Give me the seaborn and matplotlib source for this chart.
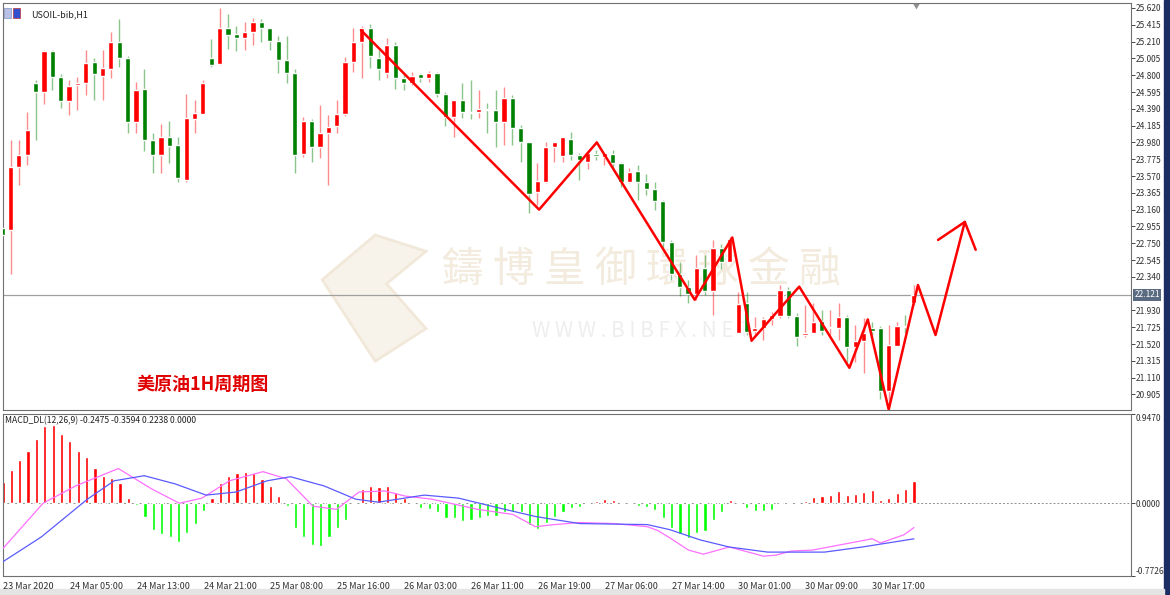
import numpy as np
import pandas as pd
import matplotlib
matplotlib.use("Agg")
import matplotlib.pyplot as plt
import seaborn as sns
from matplotlib.patches import Rectangle, Polygon

sns.set_style("white")
plt.rcParams['font.family'] = ['Noto Sans CJK SC', 'DejaVu Sans']

# USOIL H1 candles (bar 0 = 23 Mar 2020 21:00)
opens = [22.94, 22.91, 23.68, 23.83, 24.71, 24.59, 25.09, 24.78, 24.48, 24.68,
         24.71, 24.96, 24.79, 24.88, 25.20, 25.01, 24.23, 24.63, 24.01, 23.83,
         24.05, 23.95, 23.52, 24.27, 24.33, 25.01, 24.94, 25.38, 25.30, 25.26,
         25.33, 25.45, 25.37, 25.22, 24.99, 24.83, 23.84, 24.24, 23.93, 24.10,
         24.18, 24.33, 24.96, 25.20, 25.37, 25.01, 24.83, 25.17, 24.77, 24.71,
         24.81, 24.77, 24.83, 24.57, 24.29, 24.50, 24.35, 24.35, 24.39, 24.37,
         24.23, 24.52, 24.15, 23.98, 23.37, 23.50, 23.93, 23.82, 24.02, 23.83,
         23.74, 23.84, 23.80, 23.84, 23.73, 23.50, 23.63, 23.50, 23.41, 23.26,
         22.76, 22.38, 22.22, 22.13, 22.45, 22.17, 22.69, 22.52, 21.66, 22.02,
         21.68, 21.71, 21.83, 21.86, 22.18, 21.86, 21.63, 21.65, 21.80, 21.71,
         21.72, 21.85, 21.48, 21.56, 21.72, 21.72, 20.95, 21.50, 21.74, 22.02]
highs = [22.97, 24.01, 24.01, 24.35, 24.74, 25.11, 25.11, 24.82, 24.74, 24.78,
         25.11, 25.01, 25.11, 25.33, 25.49, 25.04, 24.72, 24.87, 24.10, 24.21,
         24.24, 24.05, 24.57, 24.50, 24.74, 25.24, 25.62, 25.55, 25.40, 25.45,
         25.50, 25.48, 25.38, 25.28, 25.28, 24.87, 24.29, 24.27, 24.44, 24.32,
         24.50, 25.02, 25.38, 25.40, 25.43, 25.11, 25.26, 25.21, 24.81, 24.84,
         24.83, 24.85, 24.84, 24.59, 24.50, 24.71, 24.74, 24.62, 24.46, 24.62,
         24.65, 24.56, 24.19, 23.99, 23.73, 23.98, 23.99, 24.04, 24.11, 23.85,
         23.89, 23.89, 23.85, 23.89, 23.74, 23.67, 23.71, 23.59, 23.50, 23.28,
         22.79, 22.52, 22.30, 22.61, 22.61, 22.79, 22.74, 22.83, 22.15, 22.15,
         21.85, 21.85, 21.91, 22.24, 22.22, 21.90, 22.00, 22.02, 21.94, 21.94,
         22.02, 21.88, 21.75, 21.84, 21.79, 21.74, 21.75, 21.79, 21.88, 22.24]
lows = [22.79, 22.37, 23.46, 23.71, 24.01, 24.45, 24.62, 24.40, 24.32, 24.38,
        24.56, 24.50, 24.50, 24.77, 24.90, 24.10, 24.10, 23.87, 23.61, 23.61,
        23.73, 23.50, 23.50, 24.09, 24.33, 24.90, 24.93, 25.12, 25.10, 25.11,
        25.17, 25.21, 25.11, 24.83, 24.71, 23.61, 23.80, 23.74, 23.79, 23.46,
        24.09, 24.30, 24.84, 24.76, 24.89, 24.74, 24.76, 24.63, 24.62, 24.68,
        24.72, 24.72, 24.54, 24.18, 24.04, 24.28, 24.26, 24.28, 24.10, 23.93,
        23.95, 23.95, 23.74, 23.12, 23.22, 23.49, 23.74, 23.74, 23.77, 23.52,
        23.65, 23.77, 23.71, 23.67, 23.43, 23.49, 23.28, 23.34, 23.15, 22.69,
        22.30, 22.10, 22.02, 22.06, 22.12, 21.88, 22.43, 22.52, 21.66, 21.63,
        21.63, 21.57, 21.75, 21.84, 21.84, 21.49, 21.61, 21.65, 21.63, 21.63,
        21.57, 21.30, 21.30, 21.17, 21.57, 20.85, 20.82, 21.50, 21.66, 22.00]
closes = [22.85, 23.68, 23.83, 24.13, 24.59, 25.09, 24.78, 24.48, 24.67, 24.70,
          24.95, 24.81, 24.89, 25.20, 25.01, 24.23, 24.62, 24.01, 23.83, 24.05,
          23.94, 23.54, 24.28, 24.34, 24.71, 24.93, 25.38, 25.29, 25.26, 25.33,
          25.45, 25.37, 25.22, 24.98, 24.83, 23.83, 24.24, 23.93, 24.10, 24.17,
          24.33, 24.96, 25.20, 25.37, 25.04, 24.87, 25.17, 24.76, 24.71, 24.79,
          24.77, 24.83, 24.57, 24.29, 24.50, 24.35, 24.34, 24.39, 24.37, 24.23,
          24.52, 24.15, 23.98, 23.35, 23.51, 23.93, 23.99, 24.04, 23.83, 23.76,
          23.85, 23.82, 23.85, 23.73, 23.50, 23.62, 23.50, 23.41, 23.26, 22.76,
          22.38, 22.22, 22.13, 22.45, 22.17, 22.69, 22.52, 22.80, 22.01, 21.67,
          21.71, 21.83, 21.88, 22.18, 21.86, 21.61, 21.65, 21.79, 21.68, 21.72,
          21.85, 21.48, 21.56, 21.66, 21.68, 20.95, 21.51, 21.74, 21.73, 22.12]

# hand-drawn zigzag forecast (bar index, price)
zig_x = [42.9, 64.2, 71.1, 82.8, 87.3, 89.6, 95.3, 101.3, 103.5, 106.0, 109.5, 111.6, 115.1, 116.4]
zig_y = [25.35, 23.16, 23.98, 22.06, 22.82, 21.56, 22.22, 21.23, 21.82, 20.72, 22.24, 21.63, 23.01, 22.67]
arrow_x = [111.9, 115.1]
arrow_y = [22.79, 23.01]

# MACD histogram per bar
macd_hist = [0.227, 0.357, 0.454, 0.551, 0.681, 0.822, 0.832, 0.735, 0.659, 0.551,
             0.486, 0.378, 0.292, 0.270, 0.216, 0.054, -0.022, -0.151, -0.281, -0.324,
             -0.357, -0.411, -0.314, -0.216, -0.086, 0.054, 0.216, 0.292, 0.324, 0.335,
             0.324, 0.259, 0.184, 0.076, -0.032, -0.259, -0.357, -0.443, -0.454, -0.357,
             -0.259, -0.173, -0.010, 0.151, 0.184, 0.173, 0.184, 0.119, 0.054, -0.010,
             -0.054, -0.065, -0.097, -0.162, -0.162, -0.184, -0.173, -0.162, -0.141, -0.141,
             -0.097, -0.097, -0.097, -0.227, -0.270, -0.205, -0.151, -0.097, -0.054, -0.043,
             0.0, 0.020, 0.043, 0.029, -0.007, -0.007, -0.025, -0.036, -0.069, -0.155,
             -0.259, -0.332, -0.371, -0.321, -0.299, -0.180, -0.097, 0.029, 0.011, -0.054,
             -0.079, -0.079, -0.068, -0.004, 0.018, 0.007, 0.025, 0.065, 0.079, 0.090,
             0.126, 0.090, 0.097, 0.115, 0.137, 0.036, 0.054, 0.108, 0.148, 0.234]

pink_x = [-0.5, 4.8, 8.7, 13.8, 17.8, 21.1, 23.8, 27.1, 31.1, 33.9, 37.1, 39.9, 42.6, 45.7,
          48.1, 51.3, 56.8, 61.0, 63.7, 66.0, 69.0, 73.1, 77.1, 78.4, 79.8, 82.0, 83.8,
          86.9, 89.2, 91.0, 92.5, 94.3, 96.9, 100.1, 104.0, 105.0, 107.8, 109.0]
pink_y = [-0.53, 0.0, 0.184, 0.368, 0.151, 0.0, 0.054, 0.238, 0.335, 0.259, -0.032, -0.065,
          0.119, 0.13, 0.076, 0.043, -0.065, -0.119, -0.249, -0.227, -0.205, -0.216, -0.249,
          -0.292, -0.368, -0.497, -0.541, -0.465, -0.519, -0.562, -0.551, -0.508, -0.497,
          -0.443, -0.378, -0.422, -0.335, -0.259]
blue_x = [-0.5, 4.6, 10.1, 13.3, 16.9, 20.6, 24.3, 27.9, 31.6, 34.4, 38.4, 42.2, 44.9, 50.4,
          54.5, 59.0, 63.7, 69.0, 77.1, 79.8, 83.4, 86.9, 91.5, 96.0, 98.3, 102.8, 109.0]
blue_y = [-0.649, -0.357, 0.043, 0.238, 0.292, 0.205, 0.086, 0.119, 0.238, 0.281, 0.184,
          0.043, 0.011, 0.086, 0.054, -0.043, -0.141, -0.216, -0.227, -0.281, -0.389, -0.465,
          -0.519, -0.519, -0.519, -0.465, -0.378]

price_ticks = [25.620, 25.415, 25.210, 25.005, 24.800, 24.595, 24.390, 24.185, 23.980,
               23.775, 23.570, 23.365, 23.160, 22.955, 22.750, 22.545, 22.340, 21.930,
               21.725, 21.520, 21.315, 21.110, 20.905]
last_price = 22.121
time_pos = [0, 8, 16, 24, 32, 40, 48, 56, 64, 72, 80, 88, 96, 104]
time_labels = ['23 Mar 2020', '24 Mar 05:00', '24 Mar 13:00', '24 Mar 21:00', '25 Mar 08:00',
               '25 Mar 16:00', '26 Mar 03:00', '26 Mar 11:00', '26 Mar 19:00', '27 Mar 06:00',
               '27 Mar 14:00', '30 Mar 01:00', '30 Mar 09:00', '30 Mar 17:00']

df = pd.DataFrame({'o': opens, 'h': highs, 'l': lows, 'c': closes})
df['i'] = np.arange(len(df))
df['up'] = df['c'] >= df['o']

RED = '#ff0000'
GREEN = '#008000'

fig = plt.figure(figsize=(11.7, 5.95), dpi=100)
fig.patch.set_facecolor('white')
fig.patches.append(Rectangle((1164 / 1170, 0), 6 / 1170, 1, transform=fig.transFigure,
                             color='#1c2d63', zorder=-5))
fig.patches.append(Rectangle((0, 0), 1164 / 1170, 6 / 595, transform=fig.transFigure,
                             color='#e4e4e4', zorder=-5))

ax = fig.add_axes([3 / 1170, 1 - 410 / 595, 1128 / 1170, 407 / 595])
ax2 = fig.add_axes([3 / 1170, 1 - 576 / 595, 1128 / 1170, 162 / 595])
xmax = (1131 - 4) / 8.35

# watermark
ax.text(0.566, 0.34, '鑄 博 皇 御 環 球 金 融', transform=ax.transAxes, ha='center', va='center',
        fontsize=30, color='#f3ebde', family=['Noto Sans CJK TC', 'DejaVu Sans'], zorder=0)
ax.text(0.566, 0.195, 'W W W . B I B F X . N E T', transform=ax.transAxes, ha='center',
        va='center', fontsize=15, color='#eeeeee', zorder=0)
ax.add_patch(Polygon([(0.283, 0.32), (0.33, 0.43), (0.375, 0.39), (0.34, 0.31), (0.375, 0.2),
                      (0.33, 0.12)], closed=True, transform=ax.transAxes, fc='#f8f3ea',
                     ec='#f1e8da', lw=2, zorder=0))

# candles
for up, color in [(True, RED), (False, GREEN)]:
    d = df[df['up'] == up]
    ax.vlines(d['i'], d['l'], d['h'], color=color, alpha=0.45, lw=1, zorder=2)
    ax.bar(d['i'], (d['c'] - d['o']).abs().clip(lower=0.012), bottom=d[['o', 'c']].min(axis=1),
           width=0.62, color=color, zorder=3)

ax.axhline(last_price, color='#a0a0a0', lw=0.9, zorder=1)
ax.plot(zig_x, zig_y, color=RED, lw=1.8, zorder=4)
ax.plot(arrow_x, arrow_y, color=RED, lw=1.8, zorder=4)

ax.set_xlim(0.1, xmax)
ax.set_ylim(20.715, 25.681)
ax.yaxis.tick_right()
ax.set_yticks(price_ticks)
ax.set_yticklabels([f'{t:.3f}' for t in price_ticks], fontsize=6, color='#303030')
ax.tick_params(axis='y', length=3, width=0.6, pad=0.5, direction='out', right=True)
ax.set_xticks([])
ax.text(1.003, (last_price - 20.715) / (25.681 - 20.715), f'{last_price:.3f}', transform=ax.transAxes,
        ha='left', va='center', fontsize=6, color='white',
        bbox=dict(boxstyle='square,pad=0.15', fc='#5a6a80', ec='none'), clip_on=False)
ax.text(0.025, 0.982, 'USOIL-bib,H1', transform=ax.transAxes, fontsize=6.5, va='top', color='#202020')
ax.add_patch(Rectangle((0.001, 0.962), 0.006, 0.025, transform=ax.transAxes, fc='#b8c0e8', ec='#8090c0', lw=0.5))
ax.add_patch(Rectangle((0.009, 0.962), 0.006, 0.025, transform=ax.transAxes, fc='#3050d0', ec='#c03030', lw=0.5))
ax.text(0.118, 0.04, '美原油1H周期图', transform=ax.transAxes, fontsize=13, fontweight='bold',
        color='#e00000', va='bottom')
ax.text(0.81, 1.0, '▼', transform=ax.transAxes, fontsize=5, color='#909090', ha='center', va='top')

# MACD panel
hist = pd.DataFrame({'i': np.arange(len(macd_hist)), 'v': macd_hist})
pos = hist[hist['v'] >= 0]
neg = hist[hist['v'] < 0]
ax2.bar(pos['i'], pos['v'], width=0.38, color=RED, zorder=2)
ax2.bar(neg['i'], neg['v'], width=0.38, color='#00ff00', zorder=2)
ax2.axhline(0, color='#909090', lw=0.7, ls=(0, (2, 2)), zorder=1)
sns.lineplot(x=pink_x, y=pink_y, color='#ff70ff', lw=0.9, ax=ax2, zorder=3)
sns.lineplot(x=blue_x, y=blue_y, color='#5a5aff', lw=0.9, ax=ax2, zorder=3)
ax2.set_xlim(0.1, xmax)
ax2.set_ylim(-0.7726, 0.947)
ax2.yaxis.tick_right()
ax2.set_yticks([0.947, 0.0, -0.7726])
ax2.set_yticklabels(['0.9470', '0.0000', '-0.7726'], fontsize=6, color='#303030')
ax2.get_yticklabels()[0].set_va('top')
ax2.get_yticklabels()[2].set_va('bottom')
ax2.tick_params(axis='y', length=3, width=0.6, pad=0.5, direction='out', right=True)
ax2.set_xticks(time_pos)
ax2.set_xticklabels(time_labels, fontsize=6.5, color='#303030', ha='left')
ax2.tick_params(axis='x', length=3, width=0.6, pad=1, direction='out')
ax2.text(0.002, 0.985, 'MACD_DL(12,26,9) -0.2475 -0.3594 0.2238 0.0000', transform=ax2.transAxes,
         fontsize=6.2, va='top', color='#202020')

for a in (ax, ax2):
    for s in a.spines.values():
        s.set_color('#707070')
        s.set_linewidth(0.8)
    a.grid(False)

fig.savefig('out.png', dpi=100)
